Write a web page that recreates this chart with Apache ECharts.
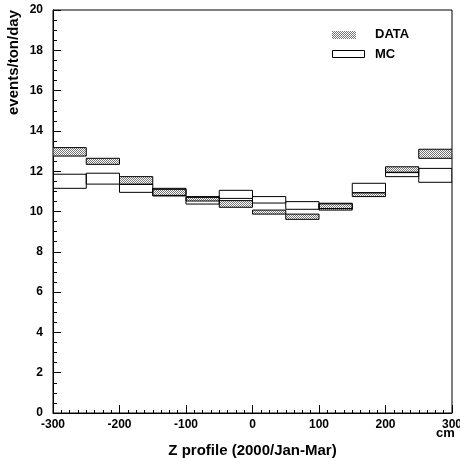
<!DOCTYPE html>
<html>
<head>
<meta charset="utf-8">
<script src="https://cdn.jsdelivr.net/npm/echarts@6/dist/echarts.min.js"></script>
<style>html,body{margin:0;padding:0;background:#fff}#c{width:460px;height:458px}</style>
</head>
<body>
<div id="c"></div>
<script>
var binStart = [-300, -250, -200, -150, -100, -50, 0, 50, 100, 150, 200, 250];
var binEnd   = [-250, -200, -150, -100, -50, 0, 50, 100, 150, 200, 250, 300];
var dataLow  = [12.75, 12.34, 11.35, 10.77, 10.52, 10.21, 9.87, 9.61, 10.07, 10.74, 11.93, 12.64];
var dataHigh = [13.17, 12.64, 11.73, 11.15, 10.74, 10.54, 10.07, 9.87, 10.41, 10.93, 12.22, 13.09];
var mcLow    = [11.15, 11.36, 10.95, 10.80, 10.37, 10.65, 10.42, 10.11, 10.15, 10.93, 11.73, 11.45];
var mcHigh   = [11.85, 11.90, 11.35, 11.10, 10.70, 11.05, 10.74, 10.49, 10.38, 11.40, 11.95, 12.14];
var yTicks = [0, 2, 4, 6, 8, 10, 12, 14, 16, 18, 20];
var xTicks = [-300, -200, -100, 0, 100, 200, 300];

function makePattern() {
  var c = document.createElement('canvas');
  c.width = 2; c.height = 2;
  var ctx = c.getContext('2d');
  ctx.fillStyle = '#fff'; ctx.fillRect(0, 0, 2, 2);
  ctx.fillStyle = '#777';
  ctx.fillRect(0, 0, 1, 1);
  ctx.fillRect(1, 1, 1, 1);
  return c;
}
var pat = makePattern();
var patFill = {image: pat, repeat: 'repeat'};

var dataRows = binStart.map(function (s, i) { return [s, binEnd[i], dataLow[i], dataHigh[i]]; });
var mcRows = binStart.map(function (s, i) { return [s, binEnd[i], mcLow[i], mcHigh[i]]; });

function boxRender(fill) {
  return function (params, api) {
    var p1 = api.coord([api.value(0), api.value(3)]);
    var p2 = api.coord([api.value(1), api.value(2)]);
    return {
      type: 'rect',
      shape: {x: p1[0], y: p1[1], width: p2[0] - p1[0], height: p2[1] - p1[1]},
      style: {fill: fill, stroke: '#000', lineWidth: 1}
    };
  };
}

var font = 'Liberation Sans, Arial, sans-serif';
var chart = echarts.init(document.getElementById('c'), null, {renderer: 'canvas'});
chart.setOption({
  animation: false,
  backgroundColor: '#fff',
  grid: {left: 53, right: 8, top: 10, bottom: 45, show: true, borderColor: '#000', borderWidth: 1,
    containLabel: false, outerBoundsMode: 'none'},
  xAxis: {
    type: 'value', min: -300, max: 300, interval: 100,
    axisLine: {onZero: false, lineStyle: {color: '#000', width: 1}},
    axisTick: {inside: true, length: 8, lineStyle: {color: '#000'}},
    minorTick: {show: true, splitNumber: 8, length: 3, lineStyle: {color: '#000'}},
    splitLine: {show: false},
    axisLabel: {color: '#000', fontFamily: font, fontWeight: 'bold', fontSize: 12, margin: 6,
      formatter: function (v) { return xTicks.indexOf(v) >= 0 ? String(v) : ''; }},
    name: 'Z profile (2000/Jan-Mar)', nameLocation: 'middle', nameGap: 30,
    nameTextStyle: {color: '#000', fontFamily: font, fontWeight: 'bold', fontSize: 15}
  },
  yAxis: {
    type: 'value', min: 0, max: 20, interval: 2,
    axisLine: {show: true, onZero: false, lineStyle: {color: '#000', width: 1}},
    axisTick: {show: true, inside: true, length: 8, lineStyle: {color: '#000'}},
    minorTick: {show: true, splitNumber: 4, length: 4, lineStyle: {color: '#000'}},
    splitLine: {show: false},
    axisLabel: {color: '#000', fontFamily: font, fontWeight: 'bold', fontSize: 12, margin: 10,
      formatter: function (v) { return yTicks.indexOf(v) >= 0 ? String(v) : ''; }}
  },
  graphic: [
    {type: 'text', x: 14, y: 10, rotation: Math.PI / 2,
      style: {text: 'events/ton/day', font: 'bold 15px ' + font, fill: '#000', align: 'right', verticalAlign: 'middle'}},
    {type: 'rect', left: 332, top: 31, shape: {width: 24, height: 8}, style: {fill: patFill, stroke: null}},
    {type: 'text', left: 375, top: 28, style: {text: 'DATA', font: 'bold 13px ' + font, fill: '#000'}},
    {type: 'rect', left: 332, top: 50, shape: {width: 32, height: 7}, style: {fill: '#fff', stroke: '#000', lineWidth: 1}},
    {type: 'text', left: 375, top: 48, style: {text: 'MC', font: 'bold 13px ' + font, fill: '#000'}},
    {type: 'text', left: 436, top: 427, style: {text: 'cm', font: 'bold 13px ' + font, fill: '#000'}}
  ],
  series: [
    {type: 'custom', name: 'DATA', renderItem: boxRender(patFill), data: dataRows,
      encode: {x: [0, 1], y: [2, 3]}, clip: true, z: 2},
    {type: 'custom', name: 'MC', renderItem: boxRender(null), data: mcRows,
      encode: {x: [0, 1], y: [2, 3]}, clip: true, z: 3}
  ]
});
</script>
</body>
</html>
